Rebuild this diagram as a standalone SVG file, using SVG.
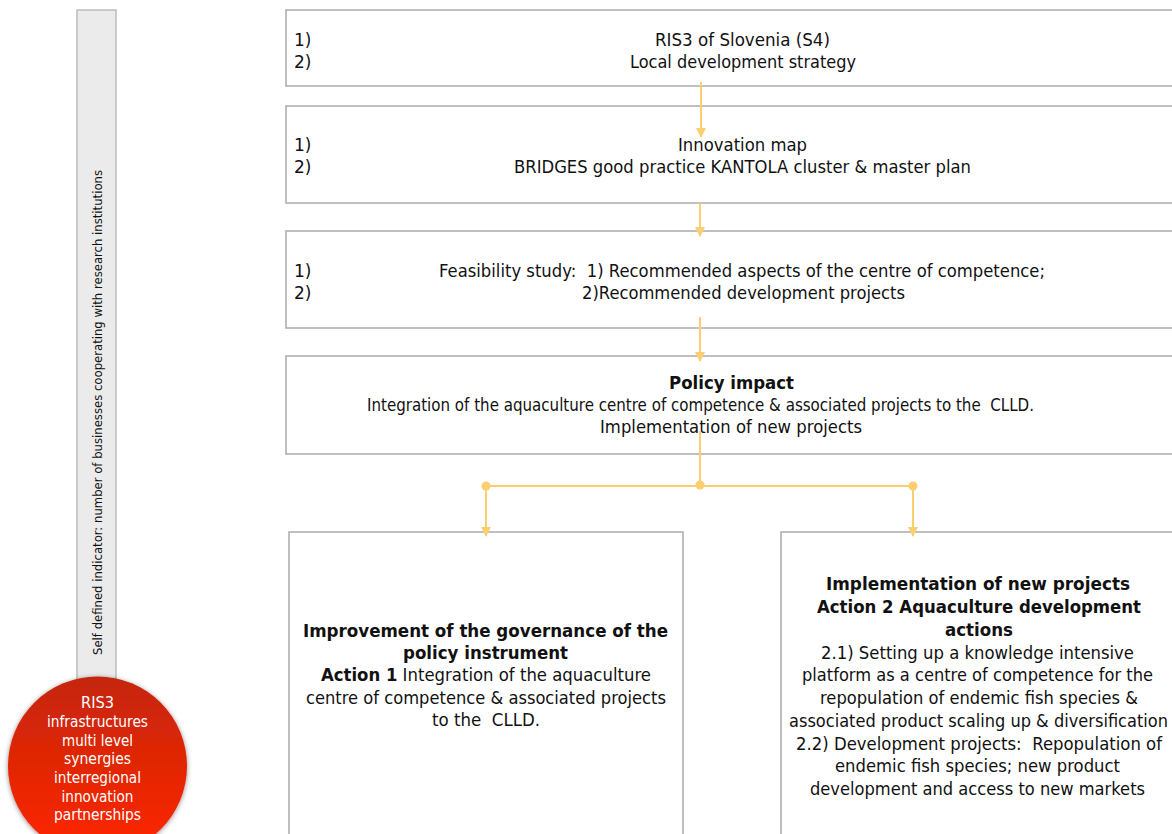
<svg xmlns="http://www.w3.org/2000/svg" width="1172" height="834" viewBox="0 0 1172 834">
<defs>
<style>
.box{fill:#ffffff;stroke:#ababab;stroke-width:1.5}
.t{font-family:"DejaVu Sans","Liberation Sans",sans-serif;font-size:17px;fill:#111111;white-space:pre}
.c{text-anchor:middle}
.b{font-weight:bold}
.w{font-family:"DejaVu Sans","Liberation Sans",sans-serif;font-size:15px;fill:#ffffff;text-anchor:middle}
.con{stroke:#fbcf70;stroke-width:2;fill:none}
</style>
<marker id="ah" viewBox="0 0 10 10" refX="9" refY="5" markerWidth="5" markerHeight="5" orient="auto" markerUnits="strokeWidth">
<path d="M0,0 L10,5 L0,10 z" fill="#fbcf70"/>
</marker>
<linearGradient id="red" x1="0" y1="0" x2="0" y2="1">
<stop offset="0" stop-color="#c4250a"/>
<stop offset="1" stop-color="#ff2600"/>
</linearGradient>
<filter id="sh" x="-20%" y="-20%" width="140%" height="140%">
<feGaussianBlur in="SourceAlpha" stdDeviation="2.5"/>
<feOffset dx="0" dy="1" result="b"/>
<feFlood flood-color="#000" flood-opacity="0.45"/>
<feComposite in2="b" operator="in"/>
<feMerge><feMergeNode/><feMergeNode in="SourceGraphic"/></feMerge>
</filter>
</defs>
<rect width="1172" height="834" fill="#ffffff"/>

<g id="indicator">
<rect x="77" y="10" width="39" height="680" fill="#ebebeb" stroke="#bcbcbc" stroke-width="1.5"/>
<text class="t" x="0" y="0" transform="translate(101.5,412.5) rotate(-90)" text-anchor="middle" textLength="485" lengthAdjust="spacingAndGlyphs" style="font-size:12.5px">Self defined indicator: number of businesses cooperating with research institutions</text>
</g>

<g id="circle">
<circle cx="97.5" cy="766" r="89.5" fill="url(#red)" filter="url(#sh)"/>
<text class="w" x="97.5" y="708" textLength="33" lengthAdjust="spacingAndGlyphs">RIS3</text>
<text class="w" x="97.5" y="727" textLength="101" lengthAdjust="spacingAndGlyphs">infrastructures</text>
<text class="w" x="97.5" y="746" textLength="71" lengthAdjust="spacingAndGlyphs">multi level</text>
<text class="w" x="97.5" y="764" textLength="67" lengthAdjust="spacingAndGlyphs">synergies</text>
<text class="w" x="97.5" y="783" textLength="87" lengthAdjust="spacingAndGlyphs">interregional</text>
<text class="w" x="97.5" y="802" textLength="72" lengthAdjust="spacingAndGlyphs">innovation</text>
<text class="w" x="97.5" y="820" textLength="87" lengthAdjust="spacingAndGlyphs">partnerships</text>
</g>

<g id="box1">
<rect class="box" x="286" y="10" width="912" height="76"/>
<text class="t" x="294" y="46">1)</text>
<text class="t" x="294" y="68">2)</text>
<text class="t c" x="742.5" y="46" textLength="175" lengthAdjust="spacingAndGlyphs">RIS3 of Slovenia (S4)</text>
<text class="t c" x="743" y="68" textLength="226" lengthAdjust="spacingAndGlyphs">Local development strategy</text>
</g>

<g id="box2">
<rect class="box" x="286" y="106" width="912" height="97"/>
<text class="t" x="294" y="151">1)</text>
<text class="t" x="294" y="173">2)</text>
<text class="t c" x="742.5" y="151" textLength="129" lengthAdjust="spacingAndGlyphs">Innovation map</text>
<text class="t c" x="742.5" y="173" textLength="457" lengthAdjust="spacingAndGlyphs">BRIDGES good practice KANTOLA cluster &amp; master plan</text>
</g>

<g id="box3">
<rect class="box" x="286" y="231" width="912" height="97"/>
<text class="t" x="294" y="277">1)</text>
<text class="t" x="294" y="299">2)</text>
<text class="t c" x="742" y="277" textLength="606" lengthAdjust="spacingAndGlyphs">Feasibility study:  1) Recommended aspects of the centre of competence;</text>
<text class="t c" x="743.5" y="299" textLength="323" lengthAdjust="spacingAndGlyphs">2)Recommended development projects</text>
</g>

<g id="box4">
<rect class="box" x="286" y="356" width="912" height="98"/>
<text class="t c b" x="731.5" y="389" textLength="125" lengthAdjust="spacingAndGlyphs">Policy impact</text>
<text class="t c" x="700.5" y="411" textLength="667" lengthAdjust="spacingAndGlyphs">Integration of the aquaculture centre of competence &amp; associated projects to the  CLLD.</text>
<text class="t c" x="731" y="433" textLength="262" lengthAdjust="spacingAndGlyphs">Implementation of new projects</text>
</g>

<g id="box5">
<rect class="box" x="289" y="532" width="394" height="320"/>
<text class="t c b" x="485.5" y="637" textLength="365" lengthAdjust="spacingAndGlyphs">Improvement of the governance of the</text>
<text class="t c b" x="485.5" y="659" textLength="165" lengthAdjust="spacingAndGlyphs">policy instrument</text>
<text class="t c" x="486" y="681" textLength="330" lengthAdjust="spacingAndGlyphs"><tspan font-weight="bold">Action 1</tspan> Integration of the aquaculture</text>
<text class="t c" x="486" y="704" textLength="360" lengthAdjust="spacingAndGlyphs">centre of competence &amp; associated projects</text>
<text class="t c" x="486" y="726" textLength="108" lengthAdjust="spacingAndGlyphs">to the  CLLD.</text>
</g>

<g id="box6">
<rect class="box" x="781" y="532" width="420" height="320"/>
<text class="t c b" x="978" y="590" textLength="304" lengthAdjust="spacingAndGlyphs">Implementation of new projects</text>
<text class="t c b" x="979" y="613" textLength="324" lengthAdjust="spacingAndGlyphs">Action 2 Aquaculture development</text>
<text class="t c b" x="979" y="636" textLength="68" lengthAdjust="spacingAndGlyphs">actions</text>
<text class="t c" x="977.5" y="659" textLength="313" lengthAdjust="spacingAndGlyphs">2.1) Setting up a knowledge intensive</text>
<text class="t c" x="977.5" y="681" textLength="351" lengthAdjust="spacingAndGlyphs">platform as a centre of competence for the</text>
<text class="t c" x="979" y="704" textLength="318" lengthAdjust="spacingAndGlyphs">repopulation of endemic fish species &amp;</text>
<text class="t c" x="978.5" y="727" textLength="379" lengthAdjust="spacingAndGlyphs">associated product scaling up &amp; diversification</text>
<text class="t c" x="979" y="750" textLength="366" lengthAdjust="spacingAndGlyphs">2.2) Development projects:  Repopulation of</text>
<text class="t c" x="977.5" y="772" textLength="285" lengthAdjust="spacingAndGlyphs">endemic fish species; new product</text>
<text class="t c" x="977.5" y="795" textLength="335" lengthAdjust="spacingAndGlyphs">development and access to new markets</text>
</g>

<g id="connectors">
<line class="con" x1="701" y1="82" x2="701" y2="137" marker-end="url(#ah)"/>
<line class="con" x1="700" y1="203" x2="700" y2="236" marker-end="url(#ah)"/>
<line class="con" x1="700" y1="317" x2="700" y2="361" marker-end="url(#ah)"/>
<line class="con" x1="700" y1="431" x2="700" y2="486"/>
<line class="con" x1="486" y1="486" x2="913" y2="486"/>
<line class="con" x1="486" y1="486" x2="486" y2="536" marker-end="url(#ah)"/>
<line class="con" x1="913" y1="486" x2="913" y2="536" marker-end="url(#ah)"/>
<circle cx="486" cy="486" r="4.5" fill="#fbcf70"/>
<circle cx="700" cy="485" r="4.5" fill="#fbcf70"/>
<circle cx="913" cy="486" r="4.5" fill="#fbcf70"/>
</g>
</svg>
